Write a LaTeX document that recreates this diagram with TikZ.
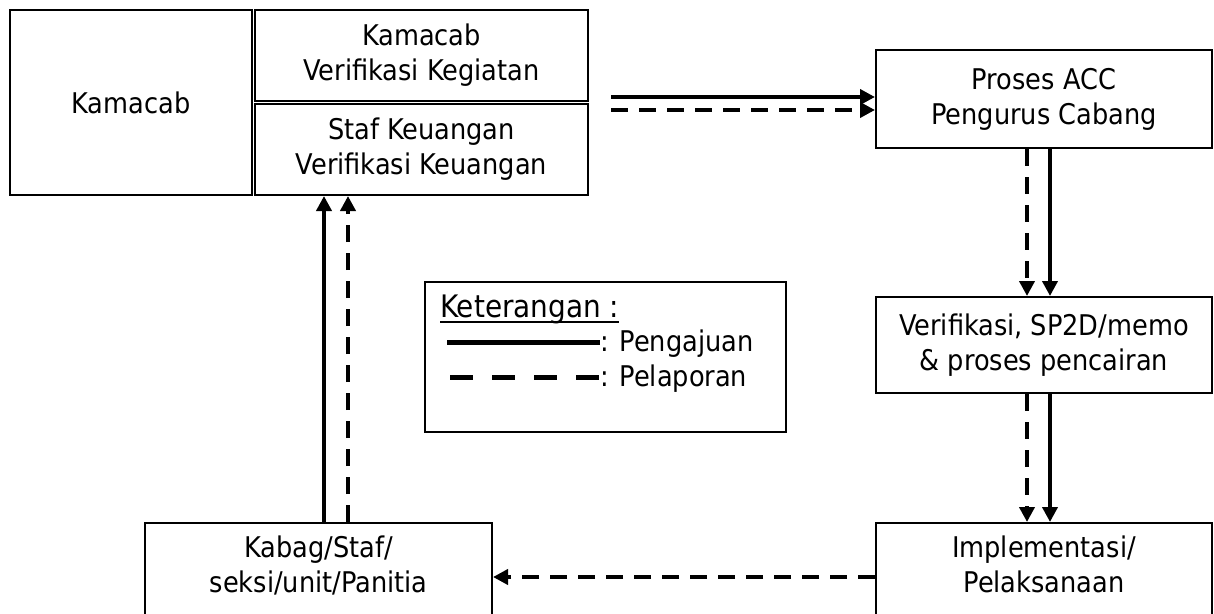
\documentclass[tikz,border=0pt]{standalone}
\usepackage{fontspec}
\setmainfont{DejaVu Sans Condensed}
\usetikzlibrary{arrows.meta}
\begin{document}
\begin{tikzpicture}[x=1pt,y=-1pt,
  every node/.style={font=\fontsize{28.5}{35}\selectfont},
  box/.style={draw, line width=2pt, inner sep=0pt, align=center},
  txt/.style={inner sep=0pt, align=center},
  solidarrow/.style={line width=4pt, -{Triangle[length=15pt,width=15pt]}},
  dasharrow/.style={line width=4pt, dash pattern=on 17pt off 11pt, -{Triangle[length=15pt,width=15pt]}},
  legsolid/.style={line width=5pt},
  legdash/.style={line width=5pt, dash pattern=on 23pt off 19pt}]
\clip (0,0) rectangle (1214,613);
\fill[white] (0,0) rectangle (1214,613);
% boxes
\node[box, minimum width=242pt, minimum height=185pt] (kam) at (131,102.5) {Kamacab};
\node[box, minimum width=333pt, minimum height=91pt] (kv) at (421.5,55.5) {Kamacab\\Verifikasi Kegiatan};
\node[box, minimum width=333pt, minimum height=91pt] (sk) at (421.5,149.5) {Staf Keuangan\\Verifikasi Keuangan};
\node[box, minimum width=336pt, minimum height=98pt] (acc) at (1044,99) {Proses ACC\\Pengurus Cabang};
\node[box, minimum width=336pt, minimum height=96pt] (ver) at (1044,345) {Verifikasi, SP2D/memo\\\& proses pencairan};
\node[box, minimum width=336pt, minimum height=120pt] (imp) at (1044,583) {};
\node[txt] (impt) at (1044,564) {Implementasi/\\Pelaksanaan};
\node[box, minimum width=347pt, minimum height=120pt] (kab) at (318.5,583) {};
\node[txt] (kabt) at (318.5,565) {Kabag/Staf/\\seksi/unit/Panitia};
% legend
\node[box, minimum width=361pt, minimum height=150pt] (leg) at (605.5,357) {};
\node[txt, anchor=base west, font=\fontsize{31}{36}\selectfont] (ket) at (440,317) {Keterangan :};
\draw[line width=2pt] ([yshift=-4.5pt]ket.base west) -- ([yshift=-4.5pt]ket.base east);
\coordinate (l1a) at (447,342); \coordinate (l1b) at (600,342);
\coordinate (l2a) at (450,377); \coordinate (l2b) at (600,377);
\draw[legsolid] (l1a) -- (l1b);
\draw[legdash] (l2a) -- (l2b);
\node[txt, anchor=base west] (peng) at (600,351) {: Pengajuan};
\node[txt, anchor=base west] (pel) at (600,386) {: Pelaporan};
% connectors
\coordinate (h1) at (611,97);
\coordinate (h2) at (611,110);
\draw[solidarrow] (h1) -- (acc.west |- h1);
\draw[dasharrow] (h2) -- (acc.west |- h2);
\coordinate (vd) at (1027,0);
\coordinate (vs) at (1050,0);
\draw[dasharrow] (vd |- acc.south) -- (vd |- ver.north);
\draw[solidarrow] (vs |- acc.south) -- (vs |- ver.north);
\draw[dasharrow] (vd |- ver.south) -- (vd |- imp.north);
\draw[solidarrow] (vs |- ver.south) -- (vs |- imp.north);
\coordinate (hb) at (0,577);
\draw[dasharrow] (imp.west |- hb) -- (kab.east |- hb);
\coordinate (ls) at (324,0);
\coordinate (ld) at (348,0);
\draw[solidarrow] (ls |- kab.north) -- (ls |- sk.south);
\draw[dasharrow] (ld |- kab.north) -- (ld |- sk.south);
\end{tikzpicture}
\end{document}
